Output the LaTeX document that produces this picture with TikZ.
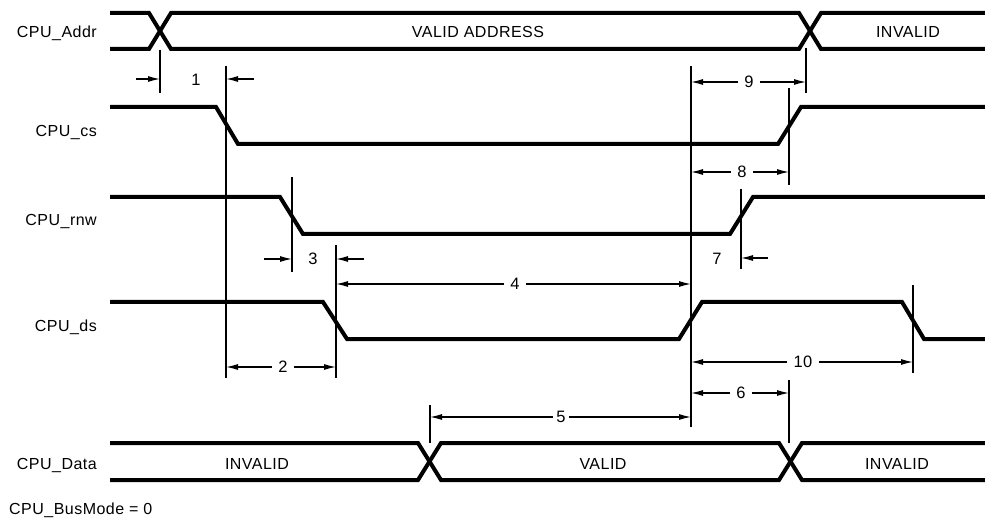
\documentclass[tikz,border=0pt]{standalone}
\usepackage{fontspec}
\setmainfont[LetterSpace=3]{Liberation Sans}
\usetikzlibrary{arrows.meta}
\begin{document}
\begin{tikzpicture}[x=1pt,y=-1pt,
  sig/.style={line width=4pt,line join=miter},
  vline/.style={line width=1.2pt},
  dimarrow/.style={line width=1.2pt,-{Latex[length=12pt,width=6pt]}},
  lbl/.style={font=\fontsize{16}{19}\selectfont,inner sep=0pt},
  num/.style={font=\fontsize{16.5}{19}\selectfont,inner xsep=6pt,inner ysep=0pt}]
\useasboundingbox (0,0) rectangle (985,521);

% signal labels
\node[lbl,anchor=base east] (lAddr) at (97,38) {CPU\_Addr};
\node[lbl,anchor=base east] (lcs)   at (97,137) {CPU\_cs};
\node[lbl,anchor=base east] (lrnw)  at (97,226) {CPU\_rnw};
\node[lbl,anchor=base east] (lds)   at (97,331) {CPU\_ds};
\node[lbl,anchor=base east] (lData) at (97,469) {CPU\_Data};
\node[lbl,anchor=base west] (lBus)  at (9,514) {CPU\_BusMode = 0};

% waveforms
\draw[sig] (110,13)--(149,13)--(171,49)--(799,49)--(821,13)--(985,13);
\draw[sig] (110,49)--(149,49)--(171,13)--(799,13)--(821,49)--(985,49);
\node[lbl,anchor=base] (tva) at (478,38) {VALID ADDRESS};
\node[lbl,anchor=base] (tinv1) at (908,38) {INVALID};

\draw[sig] (110,107)--(216,107)--(238,144)--(778,144)--(801,107)--(985,107);
\draw[sig] (110,197)--(280,197)--(303,234)--(730,234)--(753,197)--(985,197);
\draw[sig] (110,302)--(323,302)--(347,339)--(679,339)--(702,302)--(902,302)--(924,339)--(985,339);

\draw[sig] (110,443)--(418,443)--(441,480)--(779,480)--(802,443)--(985,443);
\draw[sig] (110,480)--(418,480)--(441,443)--(779,443)--(802,480)--(985,480);
\node[lbl,anchor=base] (tinv2) at (257,469) {INVALID};
\node[lbl,anchor=base] (tval) at (603,469) {VALID};
\node[lbl,anchor=base] (tinv3) at (897,469) {INVALID};

% reference verticals
\coordinate (v1t) at (160,50);  \coordinate (v1b) at (160,93);
\coordinate (v2t) at (226,66);  \coordinate (v2b) at (226,378);
\coordinate (v3t) at (292,177); \coordinate (v3b) at (292,272);
\coordinate (v4t) at (336,245); \coordinate (v4b) at (336,378);
\coordinate (v9t) at (806,48);  \coordinate (v9b) at (806,93);
\coordinate (vLt) at (691,66);  \coordinate (vLb) at (691,427);
\coordinate (v8t) at (789,88);  \coordinate (v8b) at (789,185);
\coordinate (v7t) at (741,189); \coordinate (v7b) at (741,269);
\coordinate (vAt) at (913,285); \coordinate (vAb) at (913,373);
\coordinate (v6t) at (789,380); \coordinate (v6b) at (789,443);
\coordinate (v5t) at (430,405); \coordinate (v5b) at (430,443);
\foreach \v in {v1,v2,v3,v4,v9,vL,v8,v7,vA,v6,v5}
  \draw[vline] (\v t) -- (\v b);

% dimension 1
\node[num] (n1) at (196,80) {1};
\coordinate (a1l) at (136,79); \coordinate (a1r) at (254,79);
\draw[dimarrow] (a1l) -- (a1l -| v1t);
\draw[dimarrow] (a1r) -- (a1r -| v2t);
% dimension 9
\node[num] (n9) at (749,82) {9};
\draw[dimarrow] (n9.west) -- (n9.west -| vLt);
\draw[dimarrow] (n9.east) -- (n9.east -| v9t);
% dimension 8
\node[num] (n8) at (742,172) {8};
\draw[dimarrow] (n8.west) -- (n8.west -| vLt);
\draw[dimarrow] (n8.east) -- (n8.east -| v8t);
% dimension 3
\node[num] (n3) at (313,259) {3};
\coordinate (a3l) at (264,259); \coordinate (a3r) at (364,259);
\draw[dimarrow] (a3l) -- (a3l -| v3t);
\draw[dimarrow] (a3r) -- (a3r -| v4t);
% dimension 7
\node[num] (n7) at (717,259) {7};
\coordinate (a7r) at (768,258);
\draw[dimarrow] (a7r) -- (a7r -| v7t);
% dimension 4
\node[num] (n4) at (515,284) {4};
\draw[dimarrow] (n4.west) -- (n4.west -| v4t);
\draw[dimarrow] (n4.east) -- (n4.east -| vLt);
% dimension 2
\node[num] (n2) at (283,367) {2};
\draw[dimarrow] (n2.west) -- (n2.west -| v2t);
\draw[dimarrow] (n2.east) -- (n2.east -| v4t);
% dimension 10
\node[num] (n10) at (803,362) {10};
\draw[dimarrow] (n10.west) -- (n10.west -| vLt);
\draw[dimarrow] (n10.east) -- (n10.east -| vAt);
% dimension 6
\node[num] (n6) at (741,393) {6};
\draw[dimarrow] (n6.west) -- (n6.west -| vLt);
\draw[dimarrow] (n6.east) -- (n6.east -| v6t);
% dimension 5
\node[num,inner xsep=3pt] (n5) at (561,417) {5};
\draw[dimarrow] (n5.west) -- (n5.west -| v5t);
\draw[dimarrow] (n5.east) -- (n5.east -| vLt);
\end{tikzpicture}
\end{document}
